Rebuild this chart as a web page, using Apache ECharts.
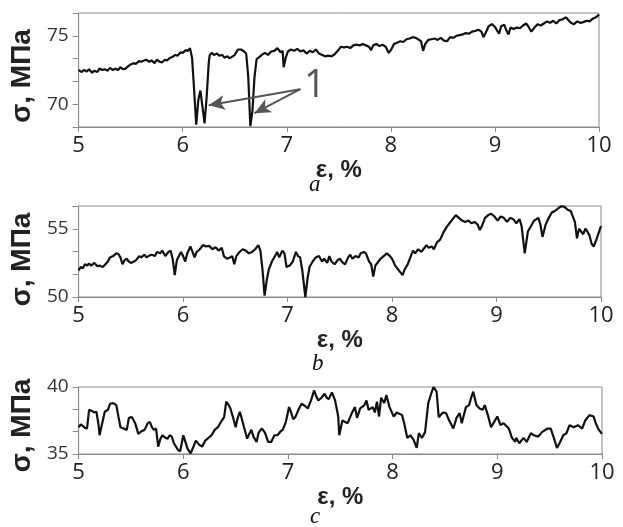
<!DOCTYPE html>
<html>
<head>
<meta charset="utf-8">
<script src="https://cdn.jsdelivr.net/npm/echarts@6/dist/echarts.min.js"></script>
<style>
    html, body { margin: 0; padding: 0; background: #fff; }
    #chart { width: 623px; height: 527px; }
</style>
</head>
<body>
<div id="chart"></div>
<script>
// [strain %, stress MPa]
var curveA = [
    [5.00, 72.5], [5.03, 72.35], [5.05, 72.5], [5.08, 72.4], [5.10, 72.55], [5.13, 72.3], [5.15, 72.45], [5.18, 72.35], [5.20, 72.6], [5.23, 72.5],
    [5.25, 72.55], [5.28, 72.45], [5.30, 72.65], [5.33, 72.5], [5.35, 72.6], [5.38, 72.5], [5.40, 72.7], [5.43, 72.55], [5.45, 72.6], [5.48, 72.8],
    [5.50, 72.9], [5.53, 73.0], [5.55, 72.95], [5.58, 73.15], [5.60, 73.1], [5.63, 73.2], [5.65, 73.25], [5.68, 73.1], [5.70, 73.2], [5.73, 73.0],
    [5.75, 73.25], [5.78, 73.1], [5.80, 73.05], [5.83, 73.25], [5.85, 73.2], [5.88, 73.4], [5.90, 73.45], [5.93, 73.6], [5.95, 73.55], [5.98, 73.8],
    [6.00, 73.75], [6.03, 73.95], [6.05, 73.9], [6.07, 74.1], [6.09, 73.4], [6.11, 71.0], [6.13, 68.5], [6.15, 70.3], [6.17, 71.0], [6.19, 69.8],
    [6.21, 68.6], [6.23, 70.5], [6.25, 73.0], [6.26, 73.6], [6.28, 73.75], [6.30, 73.6], [6.33, 73.7], [6.35, 73.55], [6.38, 73.6], [6.40, 73.4],
    [6.43, 73.5], [6.45, 73.35], [6.48, 73.5], [6.50, 73.6], [6.53, 74.0], [6.56, 74.0], [6.59, 73.85], [6.61, 73.7], [6.63, 72.0], [6.65, 68.4],
    [6.67, 69.5], [6.69, 72.0], [6.71, 73.3], [6.73, 73.4], [6.76, 73.6], [6.79, 73.75], [6.82, 73.6], [6.85, 73.85], [6.88, 73.9], [6.91, 74.1],
    [6.94, 73.8], [6.96, 73.9], [6.97, 72.7], [6.99, 73.4], [7.01, 73.85], [7.04, 74.0], [7.07, 73.9], [7.10, 74.05], [7.13, 73.85], [7.16, 73.95],
    [7.19, 73.7], [7.22, 73.9], [7.25, 73.8], [7.28, 74.0], [7.31, 73.7], [7.34, 73.6], [7.37, 73.5], [7.40, 73.55], [7.43, 73.5], [7.46, 73.65],
    [7.49, 73.9], [7.52, 74.2], [7.55, 74.15], [7.58, 74.2], [7.61, 74.1], [7.64, 74.3], [7.67, 74.35], [7.70, 74.3], [7.73, 74.4], [7.76, 74.3],
    [7.79, 74.2], [7.81, 73.95], [7.83, 74.3], [7.86, 74.4], [7.89, 74.25], [7.92, 74.35], [7.95, 74.2], [7.98, 73.75], [8.00, 73.95], [8.03, 74.4],
    [8.06, 74.5], [8.09, 74.6], [8.12, 74.55], [8.15, 74.75], [8.18, 74.8], [8.21, 74.9], [8.24, 74.85], [8.27, 74.7], [8.29, 74.6], [8.31, 73.9],
    [8.33, 74.4], [8.36, 74.7], [8.39, 74.75], [8.42, 74.8], [8.45, 74.7], [8.48, 74.85], [8.51, 74.65], [8.54, 74.6], [8.57, 74.9], [8.60, 74.85],
    [8.63, 75.0], [8.66, 75.05], [8.69, 75.1], [8.72, 75.2], [8.75, 75.15], [8.78, 75.3], [8.81, 75.35], [8.84, 75.45], [8.87, 75.3], [8.89, 74.9],
    [8.91, 75.2], [8.94, 75.7], [8.97, 75.85], [9.00, 75.65], [9.02, 75.4], [9.04, 75.15], [9.06, 75.7], [9.09, 75.8], [9.11, 75.4], [9.13, 75.1],
    [9.15, 75.6], [9.18, 75.5], [9.21, 75.6], [9.24, 75.55], [9.27, 75.75], [9.30, 75.9], [9.32, 75.7], [9.35, 75.3], [9.38, 75.6], [9.41, 75.85],
    [9.44, 75.75], [9.47, 75.9], [9.50, 76.05], [9.53, 75.95], [9.56, 76.1], [9.59, 75.9], [9.62, 76.15], [9.65, 76.2], [9.68, 76.35], [9.70, 76.2],
    [9.73, 75.95], [9.76, 75.85], [9.79, 76.05], [9.82, 75.95], [9.85, 76.0], [9.88, 76.1], [9.91, 76.05], [9.94, 76.25], [9.97, 76.35], [10.00, 76.55]
];

var curveB = [
    [5.00, 51.95], [5.02, 52.2], [5.04, 52.1], [5.06, 52.4], [5.08, 52.3], [5.10, 52.45], [5.12, 52.3], [5.15, 52.5], [5.18, 52.25], [5.20, 52.3],
    [5.23, 52.2], [5.25, 52.35], [5.28, 52.6], [5.30, 52.9], [5.33, 53.0], [5.36, 53.2], [5.38, 53.15], [5.40, 52.9], [5.42, 52.4], [5.44, 52.7],
    [5.46, 52.8], [5.48, 52.6], [5.50, 52.5], [5.53, 52.6], [5.55, 52.7], [5.58, 53.0], [5.60, 52.9], [5.63, 53.1], [5.65, 52.9], [5.68, 53.05],
    [5.70, 53.1], [5.73, 53.0], [5.75, 53.3], [5.78, 53.2], [5.80, 53.4], [5.83, 53.0], [5.86, 53.3], [5.88, 53.4], [5.90, 52.8], [5.92, 51.6],
    [5.94, 52.7], [5.96, 53.0], [5.98, 53.3], [6.00, 53.0], [6.02, 52.6], [6.04, 53.2], [6.07, 53.7], [6.09, 53.3], [6.11, 52.9], [6.13, 53.3],
    [6.16, 53.5], [6.19, 53.8], [6.22, 53.7], [6.25, 53.75], [6.28, 53.5], [6.31, 53.65], [6.34, 53.4], [6.37, 53.6], [6.39, 53.0], [6.42, 52.8],
    [6.45, 52.9], [6.47, 53.0], [6.49, 52.4], [6.51, 53.0], [6.54, 53.3], [6.57, 53.5], [6.60, 53.4], [6.63, 53.2], [6.66, 53.3], [6.69, 53.5],
    [6.72, 53.8], [6.74, 53.4], [6.76, 52.0], [6.78, 50.1], [6.80, 51.2], [6.82, 52.0], [6.85, 52.6], [6.88, 53.0], [6.90, 53.3], [6.92, 52.9],
    [6.95, 53.4], [6.97, 53.2], [6.99, 52.2], [7.02, 52.3], [7.05, 52.6], [7.08, 53.3], [7.10, 53.0], [7.12, 52.9], [7.14, 52.0], [7.17, 50.0],
    [7.19, 51.3], [7.21, 52.2], [7.24, 52.6], [7.27, 52.9], [7.30, 53.0], [7.33, 52.6], [7.35, 52.8], [7.38, 52.5], [7.40, 53.0], [7.42, 52.6],
    [7.45, 52.4], [7.48, 52.7], [7.50, 52.8], [7.53, 52.5], [7.55, 52.4], [7.58, 52.9], [7.60, 53.1], [7.62, 52.8], [7.65, 53.0], [7.68, 52.9],
    [7.70, 53.2], [7.73, 53.3], [7.75, 53.2], [7.78, 52.6], [7.80, 52.4], [7.82, 51.5], [7.84, 52.3], [7.87, 52.6], [7.89, 52.8], [7.92, 53.0],
    [7.95, 53.2], [7.98, 53.0], [8.00, 52.8], [8.03, 52.3], [8.05, 52.1], [8.08, 51.8], [8.10, 51.6], [8.12, 52.0], [8.15, 52.4], [8.18, 53.0],
    [8.20, 53.4], [8.22, 53.2], [8.25, 53.5], [8.28, 53.3], [8.30, 53.5], [8.33, 53.8], [8.35, 53.6], [8.38, 53.7], [8.40, 53.5], [8.43, 54.0],
    [8.46, 54.2], [8.49, 54.7], [8.52, 55.1], [8.55, 55.4], [8.58, 55.7], [8.61, 56.0], [8.64, 55.8], [8.67, 55.6], [8.70, 55.5], [8.73, 55.6],
    [8.76, 55.4], [8.79, 55.5], [8.82, 55.3], [8.84, 54.9], [8.86, 55.2], [8.89, 55.8], [8.92, 56.0], [8.95, 56.1], [8.98, 55.9], [9.01, 55.6],
    [9.04, 55.9], [9.07, 55.8], [9.10, 55.5], [9.13, 55.8], [9.16, 55.7], [9.19, 55.4], [9.22, 55.7], [9.24, 55.2], [9.27, 53.2], [9.30, 54.8],
    [9.33, 55.2], [9.36, 55.6], [9.40, 55.8], [9.42, 55.3], [9.44, 54.4], [9.47, 55.3], [9.50, 55.8], [9.53, 56.2], [9.56, 56.3], [9.59, 56.5],
    [9.62, 56.65], [9.65, 56.6], [9.68, 56.4], [9.71, 56.3], [9.73, 55.9], [9.75, 55.5], [9.77, 54.3], [9.79, 55.0], [9.81, 54.8], [9.83, 54.6],
    [9.85, 55.0], [9.87, 54.8], [9.89, 54.5], [9.91, 53.9], [9.93, 53.7], [9.96, 54.3], [10.00, 55.2]
];

var curveC = [
    [5.00, 37.0], [5.02, 37.2], [5.04, 37.1], [5.06, 36.95], [5.08, 36.9], [5.10, 38.3], [5.13, 38.2], [5.15, 38.1], [5.17, 38.15], [5.19, 37.2],
    [5.20, 36.4], [5.22, 37.1], [5.25, 38.15], [5.28, 38.3], [5.30, 38.75], [5.33, 38.8], [5.36, 38.65], [5.38, 37.8], [5.40, 37.0], [5.43, 36.9],
    [5.46, 36.8], [5.48, 37.7], [5.51, 37.75], [5.54, 37.3], [5.57, 36.5], [5.60, 36.7], [5.63, 36.8], [5.66, 37.3], [5.68, 37.4], [5.70, 37.0],
    [5.72, 36.8], [5.74, 36.9], [5.76, 35.55], [5.78, 36.1], [5.80, 36.4], [5.83, 36.2], [5.85, 36.15], [5.87, 36.4], [5.89, 36.3], [5.91, 35.8],
    [5.93, 35.55], [5.95, 35.3], [5.97, 35.2], [6.00, 36.4], [6.02, 35.9], [6.04, 35.4], [6.07, 35.05], [6.10, 35.6], [6.12, 36.0], [6.15, 35.7],
    [6.18, 35.55], [6.21, 36.0], [6.24, 36.2], [6.27, 36.4], [6.30, 36.8], [6.33, 37.0], [6.36, 37.4], [6.39, 37.75], [6.41, 38.9], [6.43, 38.7],
    [6.45, 38.4], [6.48, 37.6], [6.50, 37.0], [6.52, 37.7], [6.54, 38.15], [6.56, 37.6], [6.58, 37.0], [6.61, 36.15], [6.63, 36.5], [6.65, 36.8],
    [6.67, 36.3], [6.70, 35.9], [6.72, 36.6], [6.75, 36.9], [6.78, 36.6], [6.81, 35.9], [6.84, 35.9], [6.87, 36.4], [6.90, 36.4], [6.93, 36.7],
    [6.95, 36.8], [6.98, 37.4], [7.01, 38.5], [7.03, 38.1], [7.05, 37.6], [7.07, 37.75], [7.10, 38.3], [7.13, 38.75], [7.16, 38.6], [7.19, 38.4],
    [7.22, 39.0], [7.25, 39.75], [7.27, 39.3], [7.29, 39.0], [7.32, 39.2], [7.35, 39.5], [7.37, 39.2], [7.39, 39.1], [7.42, 39.6], [7.45, 39.0],
    [7.48, 37.8], [7.49, 36.4], [7.52, 37.5], [7.57, 37.3], [7.61, 38.05], [7.64, 38.5], [7.66, 37.7], [7.69, 38.4], [7.73, 38.65], [7.75, 39.0],
    [7.77, 38.3], [7.81, 38.5], [7.83, 38.1], [7.85, 38.9], [7.87, 37.8], [7.89, 39.2], [7.92, 38.8], [7.94, 39.4], [7.97, 38.5], [8.01, 37.8],
    [8.04, 38.1], [8.09, 37.9], [8.11, 37.3], [8.14, 36.2], [8.17, 36.4], [8.20, 36.05], [8.23, 35.45], [8.25, 36.55], [8.28, 36.2], [8.31, 36.65],
    [8.34, 38.8], [8.37, 39.55], [8.39, 40.0], [8.42, 39.65], [8.44, 37.75], [8.48, 38.1], [8.51, 38.05], [8.54, 37.5], [8.58, 36.9], [8.61, 37.7],
    [8.64, 38.05], [8.66, 37.3], [8.70, 38.5], [8.73, 38.65], [8.75, 39.2], [8.77, 39.65], [8.80, 38.65], [8.83, 38.4], [8.86, 38.3], [8.88, 38.65],
    [8.91, 37.9], [8.94, 37.0], [8.97, 37.4], [9.00, 37.8], [9.03, 37.15], [9.06, 37.3], [9.11, 36.9], [9.14, 36.2], [9.17, 35.9], [9.18, 36.2],
    [9.21, 35.8], [9.25, 36.2], [9.28, 35.9], [9.32, 36.55], [9.35, 36.4], [9.39, 36.3], [9.43, 36.65], [9.48, 36.9], [9.51, 36.9], [9.54, 36.2],
    [9.57, 35.45], [9.60, 35.9], [9.63, 36.4], [9.66, 36.55], [9.69, 37.15], [9.73, 37.0], [9.77, 37.15], [9.81, 36.9], [9.84, 37.5], [9.88, 37.9],
    [9.92, 37.8], [9.94, 37.3], [9.97, 36.8], [10.00, 36.5]
];

// arrows to the marked drops in panel a
var arrowFrom = [7.13, 71.1];
var arrowTips = [[6.25, 69.93], [6.69, 69.34]];
var markLabelAt = [7.27, 71.35];

var grids = [
    {left: 74, right: 24, top: 13, height: 114},
    {left: 77, right: 22, top: 206, height: 91},
    {left: 78, right: 21, top: 387, height: 67}
];
var yRange = [[205 / 3, 230 / 3], [50, 170 / 3], [35, 40]];
var titleShift = [12, 16, 10];

var xAxes = [], yAxes = [];
for (var g = 0; g < 3; g++) {
    grids[g].show = true;
    grids[g].borderColor = '#8a8a8a';
    grids[g].borderWidth = 1;
    xAxes.push({
        gridIndex: g, type: 'value', min: 5, max: 10, interval: 1,
        name: 'ε, %', nameLocation: 'middle', nameGap: 23,
        nameTextStyle: {fontFamily: 'Liberation Sans', fontWeight: 'bold', fontSize: 24, color: '#222'},
        axisLine: {lineStyle: {color: '#8a8a8a'}},
        axisTick: {length: 5, lineStyle: {color: '#8a8a8a'}},
        axisLabel: {fontFamily: 'Open Sans', fontSize: 22, color: '#222', margin: 8},
        splitLine: {show: false}
    });
    yAxes.push({
        gridIndex: g, type: 'value', min: yRange[g][0], max: yRange[g][1], interval: 5 / 3,
        name: 'σ, МПа', nameLocation: 'middle', nameGap: 41, nameRotate: 90,
        nameTextStyle: {
            fontFamily: 'Liberation Sans', fontWeight: 'bold', fontSize: 28, color: '#222',
            padding: [0, titleShift[g], 0, 0]
        },
        axisLine: {show: true, lineStyle: {color: '#8a8a8a'}},
        axisTick: {show: true, length: 6, lineStyle: {color: '#8a8a8a'}},
        axisLabel: {
            fontFamily: 'Open Sans', fontSize: 19, color: '#333', margin: 10,
            formatter: function (v) {
                var r = Math.round(v / 5) * 5;
                return Math.abs(v - r) < 0.01 ? String(r) : '';
            }
        },
        splitLine: {show: false}
    });
}

var arrowLines = arrowTips.map(function (t) {
    return [{coord: arrowFrom, symbol: 'none'}, {coord: t, symbol: 'arrow', symbolSize: [11, 16]}];
});

var option = {
    animation: false,
    backgroundColor: '#fff',
    grid: grids,
    xAxis: xAxes,
    yAxis: yAxes,
    series: [
        {
            type: 'line', xAxisIndex: 0, yAxisIndex: 0, data: curveA,
            showSymbol: false, lineStyle: {color: '#111', width: 2.2},
            markLine: {
                silent: true, symbol: ['none', 'arrow'],
                lineStyle: {color: '#555', width: 2, type: 'solid'},
                label: {show: false},
                data: arrowLines
            },
            markPoint: {
                silent: true, symbol: 'circle', symbolSize: 0,
                label: {show: true, formatter: '1', fontFamily: 'Open Sans', fontSize: 38, color: '#555'},
                data: [{coord: markLabelAt}]
            }
        },
        {
            type: 'line', xAxisIndex: 1, yAxisIndex: 1, data: curveB,
            showSymbol: false, lineStyle: {color: '#111', width: 2.2}
        },
        {
            type: 'line', xAxisIndex: 2, yAxisIndex: 2, data: curveC,
            showSymbol: false, lineStyle: {color: '#111', width: 2.2}
        }
    ],
    graphic: [
        {type: 'text', left: 309, top: 173, style: {text: 'a', font: 'italic 23px "Liberation Serif"', fill: '#111'}},
        {type: 'text', left: 312, top: 352, style: {text: 'b', font: 'italic 23px "Liberation Serif"', fill: '#111'}},
        {type: 'text', left: 310, top: 505, style: {text: 'c', font: 'italic 23px "Liberation Serif"', fill: '#111'}}
    ]
};

echarts.init(document.getElementById('chart')).setOption(option);
</script>
</body>
</html>
